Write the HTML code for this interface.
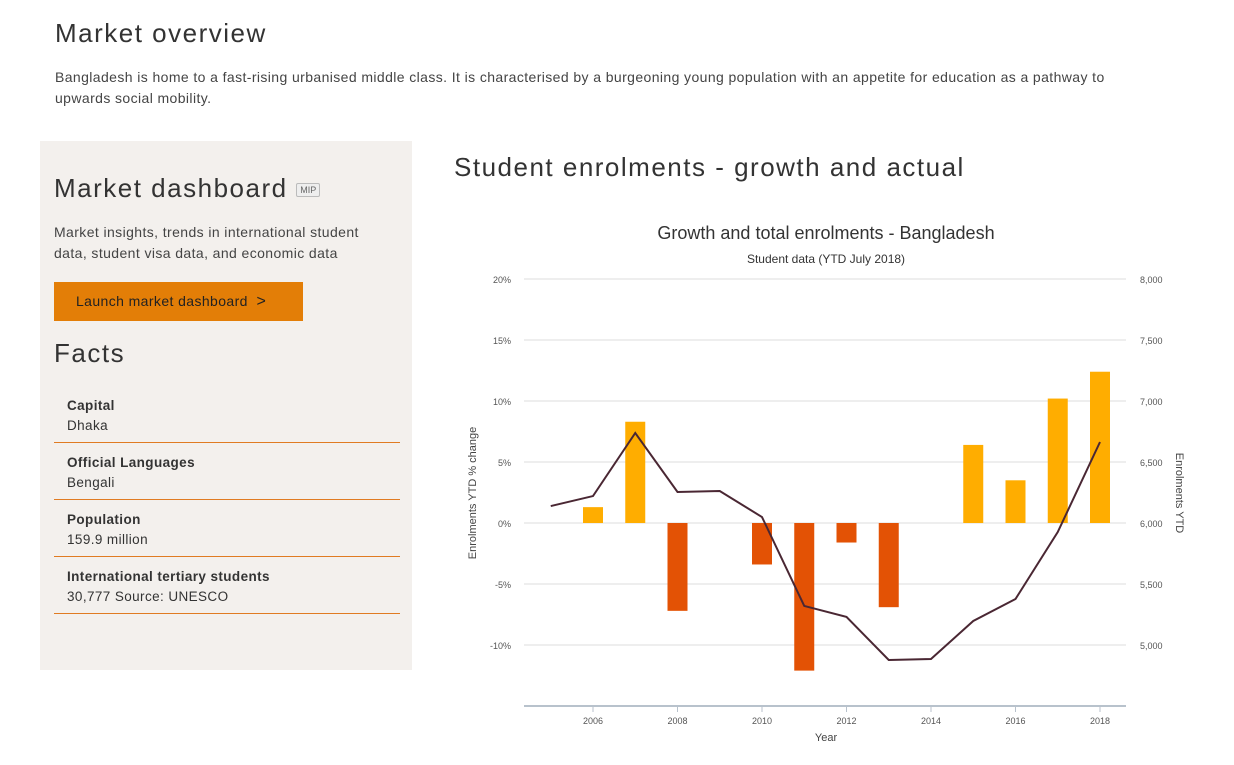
<!DOCTYPE html>
<html><head><meta charset="utf-8"><style>
body{margin:0;width:1234px;height:765px;background:#fff;font-family:"Liberation Sans",sans-serif;color:#333;position:relative;overflow:hidden}
.a{position:absolute;margin:0}
h1{font-weight:normal;font-size:26px;color:#333;letter-spacing:1.5px}
.p{font-size:14px;line-height:21px;color:#444;letter-spacing:0.4px}
.panel{position:absolute;left:40px;top:141px;width:372px;height:529px;background:#f3f0ed}
.fact{position:absolute;left:14px;width:346px;border-bottom:1px solid #e07b22;font-size:13.5px;line-height:20px;letter-spacing:0.4px}
.fact b{color:#333}
</style></head><body>
<h1 class="a" style="left:55px;top:18px">Market overview</h1>
<p class="a p" style="left:55px;top:67px;width:1100px">Bangladesh is home to a fast-rising urbanised middle class. It is characterised by a burgeoning young population with an appetite for education as a pathway to upwards social mobility.</p>
<div class="panel">
 <h1 class="a" style="left:14px;top:32px">Market dashboard <span style="font-size:9px;letter-spacing:0;border:1px solid #bbb;border-radius:2px;padding:1px 3px;color:#666;vertical-align:middle;background:#eee">MIP</span></h1>
 <p class="a p" style="left:14px;top:81px;width:330px">Market insights, trends in international student data, student visa data, and economic data</p>
 <div class="a" style="left:14px;top:141px;width:249px;height:39px;background:#e37e07;color:#222;font-size:14px;letter-spacing:0.4px;line-height:39px;text-indent:22px">Launch market dashboard &nbsp;<span style="font-size:16px">&gt;</span></div>
 <h1 class="a" style="left:14px;top:197px">Facts</h1>
 <div class="fact" style="top:253px;height:48px"><div style="padding:2px 13px"><b>Capital</b><br>Dhaka</div></div>
 <div class="fact" style="top:310px;height:48px"><div style="padding:2px 13px"><b>Official Languages</b><br>Bengali</div></div>
 <div class="fact" style="top:367px;height:48px"><div style="padding:2px 13px"><b>Population</b><br>159.9 million</div></div>
 <div class="fact" style="top:424px;height:48px"><div style="padding:2px 13px"><b>International tertiary students</b><br>30,777 Source: UNESCO</div></div>
</div>
<h1 class="a" style="left:454px;top:152px">Student enrolments - growth and actual</h1>
<svg class="a" style="left:0;top:0" width="1234" height="765" id="chart"></svg>
<script>
const years=[2005,2006,2007,2008,2009,2010,2011,2012,2013,2014,2015,2016,2017,2018];
const growth=[null,1.3,8.3,-7.2,0,-3.4,-12.1,-1.6,-6.9,0,6.4,3.5,10.2,12.4];
const enrol=[6139,6221,6738,6254,6262,6049,5320,5230,4877,4885,5197,5377,5926,6664];
const leftTicks=[20,15,10,5,0,-5,-10];
const rightTicks=[8000,7500,7000,6500,6000,5500,5000];
const xTicks=[2006,2008,2010,2012,2014,2016,2018];
const NS='http://www.w3.org/2000/svg',svg=document.getElementById('chart');
const X=y=>593+(y-2006)*42.25, YL=v=>523-v*12.2, YR=v=>523-(v-6000)*0.122;
function el(t,a,txt){const e=document.createElementNS(NS,t);for(const k in a)e.setAttribute(k,a[k]);if(txt!=null)e.textContent=txt;svg.appendChild(e);return e;}
let e;
e=el('text',{x:826,y:239,'text-anchor':'middle','font-size':18,fill:'#333'},'Growth and total enrolments - Bangladesh');


e=el('text',{x:826,y:263,'text-anchor':'middle','font-size':12,fill:'#333'},'Student data (YTD July 2018)');


leftTicks.forEach(v=>{
 e=el('line',{x1:524,x2:1126,y1:YL(v),y2:YL(v),stroke:'#dcdcdc','stroke-width':1});
 
 
 e=el('text',{x:511,y:YL(v)+4,'text-anchor':'end','font-size':9,fill:'#555'},v+'%');
 
 
});
rightTicks.forEach(v=>{
 e=el('text',{x:1140,y:YR(v)+4,'font-size':9,fill:'#555'},v.toLocaleString('en-US'));
 
 
});
e=el('line',{x1:524,x2:1126,y1:706,y2:706,stroke:'#b8c2cc','stroke-width':2});


xTicks.forEach(y=>{
 e=el('line',{x1:X(y),x2:X(y),y1:706,y2:712,stroke:'#b8c2cc'});
 
 
 e=el('text',{x:X(y),y:724,'text-anchor':'middle','font-size':9,fill:'#555'},y);
 
 
});
e=el('text',{x:826,y:741,'text-anchor':'middle','font-size':11,fill:'#444'},'Year');


e=el('text',{x:0,y:0,'text-anchor':'middle','font-size':11,fill:'#444',transform:'translate(476,493) rotate(-90)'},'Enrolments YTD % change');


e=el('text',{x:0,y:0,'text-anchor':'middle','font-size':11,fill:'#444',transform:'translate(1176,493) rotate(90)'},'Enrolments YTD');


years.forEach((y,i)=>{
 const v=growth[i]; if(v==null||v===0) return;
 const y0=YL(Math.max(v,0)),h=Math.abs(YL(v)-YL(0));
 e=el('rect',{x:X(y)-10,y:y0,width:20,height:h,fill:v>0?'#ffad00':'#e35205'});
 
 
});
e=el('polyline',{points:years.map((y,i)=>X(y)+','+YR(enrol[i])).join(' '),fill:'none',stroke:'#4a2733','stroke-width':2});


</script>
</body></html>
